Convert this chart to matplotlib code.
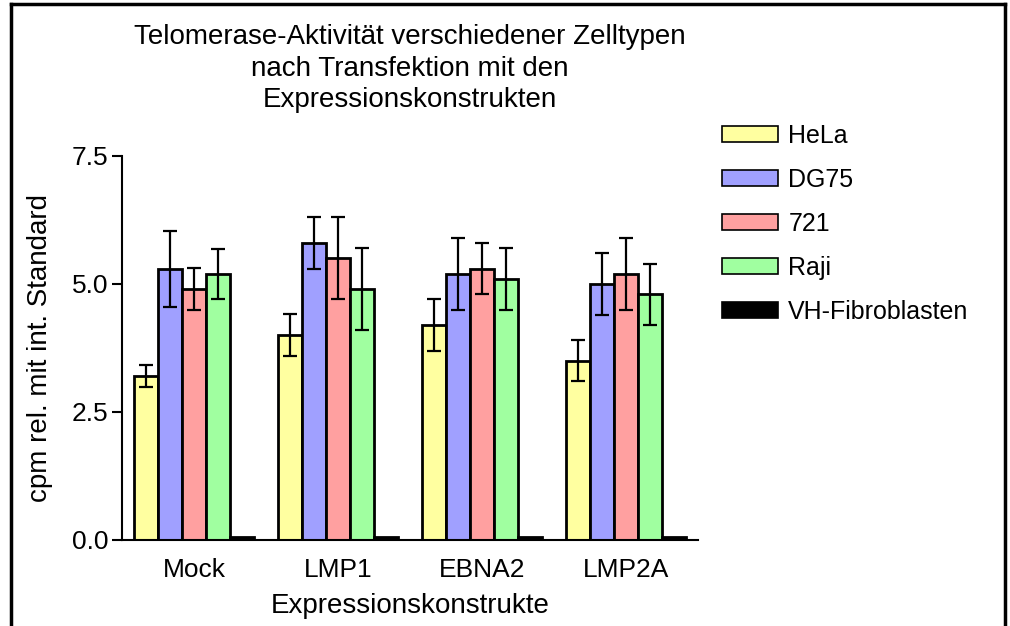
from matplotlib import pyplot as plt
from matplotlib.lines import Line2D
import numpy as np

plt.rcParams['font.family'] = ['Liberation Sans', 'DejaVu Sans']

constructs = ["Mock", "LMP1", "EBNA2", "LMP2A"]
cell_types = ["HeLa", "DG75", "721", "Raji", "VH-Fibroblasten"]

hela = [3.2, 4.0, 4.2, 3.5]
dg75 = [5.3, 5.8, 5.2, 5.0]
b721 = [4.9, 5.5, 5.3, 5.2]
raji = [5.2, 4.9, 5.1, 4.8]
vh_fibro = [0.05, 0.05, 0.05, 0.05]

hela_err = [0.22, 0.41, 0.5, 0.4]
dg75_err = [0.74, 0.5, 0.7, 0.6]
b721_err = [0.41, 0.8, 0.5, 0.7]
raji_err = [0.49, 0.8, 0.6, 0.6]

values = [hela, dg75, b721, raji, vh_fibro]
errors = [hela_err, dg75_err, b721_err, raji_err, None]
colors = ["#FFFFA0", "#A0A0FF", "#FFA0A0", "#A0FFA0", "#000000"]

fig = plt.figure(figsize=(10.1, 6.26), dpi=100)
ax = fig.add_axes([0.1208, 0.1374, 0.5703, 0.6134])

x = np.arange(len(constructs))
w = 1 / 6
for k in range(len(cell_types)):
    pos = x + (k - 2) * w
    ax.bar(pos, values[k], w, color=colors[k], edgecolor="black",
           linewidth=2, label=cell_types[k], zorder=2)
    if errors[k] is not None:
        ax.errorbar(pos, values[k], yerr=errors[k], fmt="none", ecolor="black",
                    elinewidth=1.6, capsize=4.7, capthick=1.6, zorder=3)

ax.set_xlim(-0.5, 3.5)
ax.set_ylim(0, 7.5)
ax.set_yticks([0, 2.5, 5.0, 7.5])
ax.set_yticklabels(["0.0", "2.5", "5.0", "7.5"])
ax.set_xticks(x)
ax.set_xticklabels(constructs)
ax.tick_params(axis="x", length=0, pad=13, labelsize=19)
ax.tick_params(axis="y", length=7, width=1.5, pad=3, labelsize=19)
for s in ["top", "right"]:
    ax.spines[s].set_visible(False)
for s in ["left", "bottom"]:
    ax.spines[s].set_linewidth(1.5)

ax.set_xlabel("Expressionskonstrukte", fontsize=20, labelpad=8)
ax.set_ylabel("cpm rel. mit int. Standard", fontsize=20, labelpad=13)
ax.set_title("Telomerase-Aktivität verschiedener Zelltypen\nnach Transfektion mit den\nExpressionskonstrukten",
             fontsize=20, linespacing=1.28, pad=35)

leg = fig.legend(loc="upper left", bbox_to_anchor=(0.705, 0.818), frameon=False,
                 fontsize=18, handlelength=2.25, handleheight=0.6,
                 labelspacing=0.8, handletextpad=0.4, borderaxespad=0)
for h in leg.legend_handles:
    h.set_linewidth(1.2)

# outer frame
for xs, ys in [([0.0105, 0.0105], [0.0, 0.994]), ([0.0105, 0.995], [0.994, 0.994]),
               ([0.995, 0.995], [0.994, 0.0])]:
    fig.add_artist(Line2D(xs, ys, color="black", linewidth=2.5, transform=fig.transFigure))

fig.savefig("out.png", dpi=100)
